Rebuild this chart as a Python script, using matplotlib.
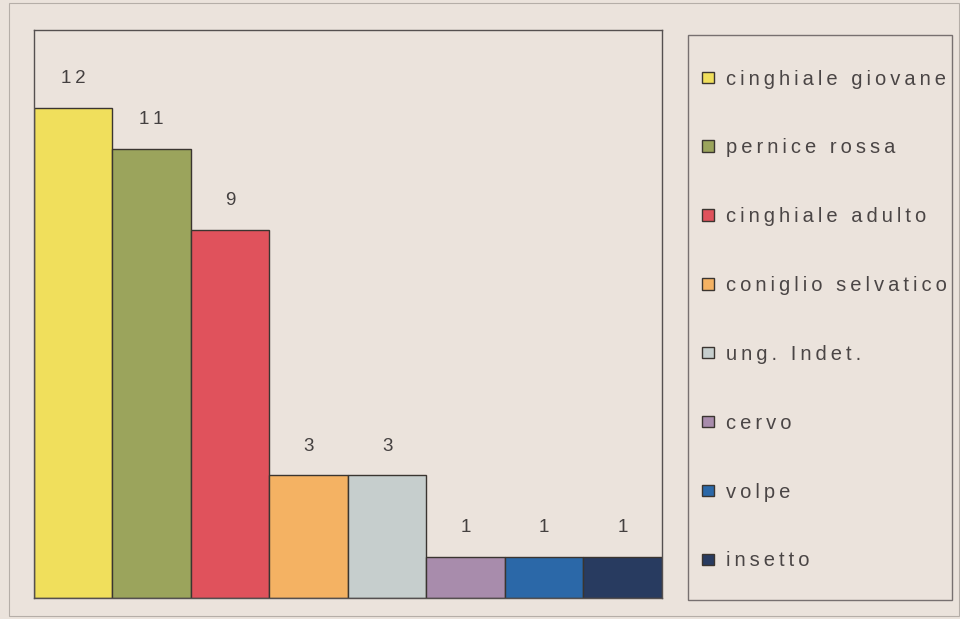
import matplotlib.pyplot as plt
from matplotlib.patches import Rectangle

# dati
categorie = ['cinghiale giovane', 'pernice rossa', 'cinghiale adulto', 'coniglio selvatico',
             'ung. Indet.', 'cervo', 'volpe', 'insetto']
valori = [12, 11, 9, 3, 3, 1, 1, 1]
colori = ['#f0df5c', '#9ba45c', '#e0525c', '#f4b263', '#c6cecd', '#a88cac', '#2b68a8', '#283b60']

sfondo = '#ebe3dc'
plt.rcParams['font.family'] = ['Liberation Sans', 'DejaVu Sans']

def spaziato(s):
    # lettere distanziate come nella stampa
    return '\u2009'.join(s)

fig = plt.figure(figsize=(9.6, 6.19), dpi=100)
fig.patch.set_facecolor(sfondo)

ax = fig.add_axes([0.0354, 0.034, 0.654, 0.9175])
ax.set_facecolor(sfondo)
x = range(len(valori))
bars = ax.bar(x, valori, width=1.0, color=colori, edgecolor='#3a3530', linewidth=1.0)
ax.bar_label(bars, labels=[spaziato(str(v)) for v in valori], padding=15,
             fontsize=13.5, color='#444040')
ax.set_xlim(-0.5, len(valori) - 0.5)
ax.set_ylim(0, 13.9)
ax.set_xticks([])
ax.set_yticks([])
for s in ax.spines.values():
    s.set_color('#555050')
    s.set_linewidth(1.0)

# cornice legenda
fig.patches.append(Rectangle((0.7167, 0.031), 0.275, 0.9125, transform=fig.transFigure,
                             fill=False, edgecolor='#777070', linewidth=1.0))
# cornice esterna
fig.patches.append(Rectangle((0.009, 0.005), 0.99, 0.99, transform=fig.transFigure,
                             fill=False, edgecolor='#b5aea8', linewidth=0.8))

leg = fig.legend(handles=list(bars), labels=[spaziato(c) for c in categorie], loc='upper left',
                 bbox_to_anchor=(0.712, 0.917), frameon=False, fontsize=14.5,
                 handlelength=0.6, handleheight=0.5, handletextpad=0.6,
                 labelspacing=2.475, labelcolor='#4a4545')

fig.savefig('out.png', dpi=100, facecolor=sfondo)
